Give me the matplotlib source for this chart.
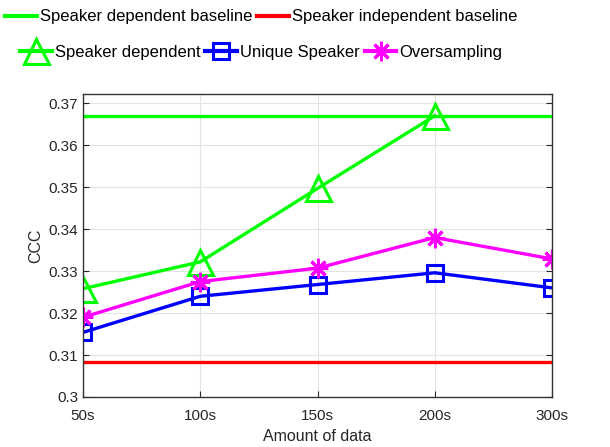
import matplotlib
matplotlib.use("Agg")
import matplotlib.pyplot as plt
from matplotlib.lines import Line2D

categories = ["50s", "100s", "150s", "200s", "300s"]
spk_dep = [0.3258, 0.3322, 0.3497, 0.3670]
unique_spk = [0.3154, 0.3240, 0.3268, 0.3296, 0.3260]
oversamp = [0.3190, 0.3275, 0.3307, 0.3380, 0.3329]
baseline_dep = 0.3670
baseline_indep = 0.3083
yticks = [0.30, 0.31, 0.32, 0.33, 0.34, 0.35, 0.36, 0.37]
ytick_labels = ["0.3", "0.31", "0.32", "0.33", "0.34", "0.35", "0.36", "0.37"]

plt.rcParams['font.family'] = ['Liberation Sans', 'DejaVu Sans']

fig = plt.figure(figsize=(6.10, 4.47), dpi=100)
ax = fig.add_axes([83/610, 1-397/447, (552-83)/610, (397-94)/447])

x = list(range(len(categories)))
green = "#00ff00"
lw = 2.4
tri_ms, sq_ms, ast_ms = 18, 11.5, 14
ax.plot(x, [baseline_dep]*len(x), color=green, lw=lw)
ax.plot(x, [baseline_indep]*len(x), color="#ff0000", lw=lw)
ax.plot(x[:len(spk_dep)], spk_dep, color=green, lw=lw, marker="^", markersize=tri_ms,
        markerfacecolor="none", markeredgewidth=2.2)
ax.plot(x, unique_spk, color="#0000ff", lw=lw, marker="s", markersize=sq_ms,
        markerfacecolor="none", markeredgewidth=2.2)
ax.plot(x, oversamp, color="#ff00ff", lw=lw, marker=(8, 2, 0), markersize=ast_ms,
        markeredgewidth=2.2)

ax.set_xlim(0, 4)
ax.set_ylim(0.3, 0.3722)
ax.set_xticks(x)
ax.set_xticklabels(categories)
ax.set_yticks(yticks)
ax.set_yticklabels(ytick_labels)
ax.tick_params(direction="in", labelsize=11, colors="#262626", length=4, top=False, right=True)
ax.tick_params(axis="x", pad=9)
ax.grid(True, color="#e3e3e3", lw=0.8)
ax.set_axisbelow(True)
for s in ax.spines.values():
    s.set_color("#333333")
    s.set_linewidth(1.0)
ax.set_xlabel("Amount of data", fontsize=11.5, color="#262626", labelpad=4)
ax.set_ylabel("CCC", fontsize=11.5, color="#262626", labelpad=4)

fs = 12
h1 = [Line2D([], [], color=green, lw=3), Line2D([], [], color="#ff0000", lw=3)]
l1 = ["Speaker dependent baseline", "Speaker independent baseline"]
fig.legend(h1, l1, loc="center left", bbox_to_anchor=(5/610, 1-17/447), ncol=2, frameon=False,
           fontsize=fs, handlelength=1.9, handletextpad=0.18, columnspacing=0.3,
           borderaxespad=0, borderpad=0)
h2 = [Line2D([], [], color=green, lw=3, marker="^", markersize=tri_ms, markerfacecolor="none", markeredgewidth=2.2),
      Line2D([], [], color="#0000ff", lw=3, marker="s", markersize=sq_ms, markerfacecolor="none", markeredgewidth=2.2),
      Line2D([], [], color="#ff00ff", lw=3, marker=(8, 2, 0), markersize=ast_ms, markeredgewidth=2.2)]
l2 = ["Speaker dependent", "Unique Speaker", "Oversampling"]
fig.legend(h2, l2, loc="center left", bbox_to_anchor=(20/610, 1-52/447), ncol=3, frameon=False,
           fontsize=fs, handlelength=1.9, handletextpad=0.18, columnspacing=0.3,
           borderaxespad=0, borderpad=0)

fig.savefig("out.png", dpi=100)
